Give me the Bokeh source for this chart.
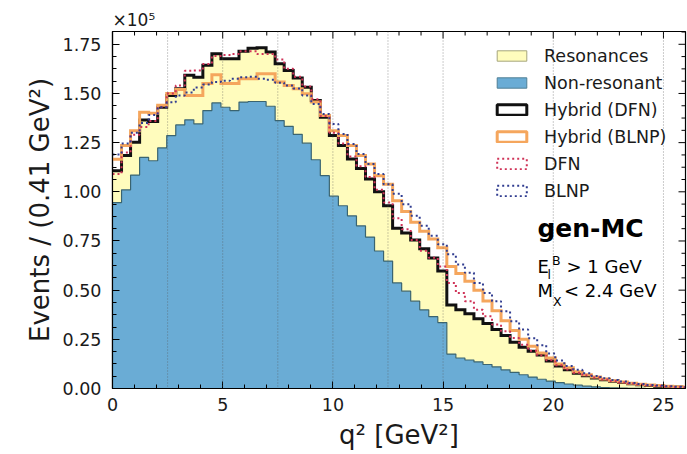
import numpy as np
from bokeh.plotting import figure
from bokeh.models import (ColumnDataSource, FixedTicker, Legend, LegendItem,
                          Label, Span, Title)
from bokeh.embed import file_html
from bokeh.resources import INLINE

# q^2 binning (GeV^2)
bin_width = 0.41
n_bins = 64

# Event counts per bin, in units of 1e5
non_resonant = [
    0.945, 1.010, 1.085, 1.175, 1.158, 1.223, 1.286, 1.340, 1.366, 1.345,
    1.413, 1.452, 1.430, 1.413, 1.456, 1.459, 1.459, 1.435, 1.362, 1.333,
    1.292, 1.247, 1.163, 1.082, 0.978, 0.929, 0.878, 0.827, 0.770, 0.699,
    0.648, 0.537, 0.495, 0.444, 0.400, 0.365, 0.335, 0.175, 0.155, 0.145,
    0.135, 0.122, 0.110, 0.095, 0.082, 0.070, 0.058, 0.047, 0.038, 0.030,
    0.023, 0.017, 0.012, 0.008, 0.005, 0.003, 0.002, 0.001, 0.001, 0.000,
    0.000, 0.000, 0.000, 0.000]

resonances = [
    0.162, 0.174, 0.167, 0.190, 0.199, 0.207, 0.204, 0.184, 0.226, 0.238,
    0.230, 0.250, 0.246, 0.263, 0.259, 0.271, 0.273, 0.276, 0.289, 0.284,
    0.286, 0.285, 0.301, 0.297, 0.308, 0.306, 0.289, 0.292, 0.295, 0.301,
    0.281, 0.278, 0.295, 0.311, 0.310, 0.298, 0.262, 0.250, 0.245, 0.235,
    0.220, 0.208, 0.190, 0.175, 0.153, 0.140, 0.132, 0.123, 0.102, 0.085,
    0.072, 0.061, 0.053, 0.046, 0.040, 0.034, 0.028, 0.023, 0.018, 0.015,
    0.012, 0.009, 0.007, 0.005]

hybrid_blnp = [
    1.165, 1.235, 1.310, 1.405, 1.400, 1.440, 1.500, 1.520, 1.490, 1.490,
    1.550, 1.595, 1.550, 1.550, 1.575, 1.575, 1.600, 1.600, 1.558, 1.541,
    1.524, 1.498, 1.456, 1.388, 1.311, 1.286, 1.235, 1.184, 1.141, 1.082,
    1.039, 0.955, 0.900, 0.845, 0.800, 0.760, 0.715, 0.620, 0.585, 0.545,
    0.500, 0.445, 0.395, 0.345, 0.295, 0.250, 0.215, 0.180, 0.155, 0.125,
    0.105, 0.085, 0.070, 0.058, 0.048, 0.040, 0.033, 0.027, 0.022, 0.018,
    0.015, 0.012, 0.009, 0.007]

dfn = [
    1.090, 1.200, 1.290, 1.330, 1.360, 1.430, 1.500, 1.540, 1.615, 1.617,
    1.650, 1.690, 1.695, 1.700, 1.715, 1.715, 1.700, 1.700, 1.673, 1.625,
    1.585, 1.535, 1.470, 1.385, 1.300, 1.245, 1.180, 1.130, 1.075, 1.010,
    0.945, 0.865, 0.810, 0.755, 0.700, 0.665, 0.620, 0.537, 0.486, 0.444,
    0.401, 0.367, 0.325, 0.291, 0.257, 0.223, 0.192, 0.168, 0.143, 0.118,
    0.097, 0.080, 0.067, 0.056, 0.046, 0.038, 0.031, 0.025, 0.020, 0.016,
    0.013, 0.010, 0.008, 0.006]

blnp = [
    1.190, 1.245, 1.300, 1.350, 1.390, 1.430, 1.455, 1.490, 1.505, 1.530,
    1.545, 1.558, 1.565, 1.575, 1.583, 1.585, 1.575, 1.570, 1.555, 1.540,
    1.525, 1.490, 1.447, 1.396, 1.345, 1.294, 1.243, 1.192, 1.141, 1.090,
    1.039, 0.990, 0.937, 0.878, 0.827, 0.776, 0.733, 0.682, 0.631, 0.588,
    0.537, 0.486, 0.444, 0.393, 0.342, 0.300, 0.255, 0.220, 0.178, 0.142,
    0.115, 0.095, 0.077, 0.064, 0.052, 0.043, 0.035, 0.028, 0.023, 0.018,
    0.015, 0.012, 0.009, 0.007]

# hybrid-model q^2 bin boundaries, shown as dotted guide lines
hybrid_q2_boundaries = [2.5, 5, 7.5, 10, 12.5, 15, 20, 25]

x_ticks = [0, 5, 10, 15, 20, 25]
x_minor = list(range(0, 27))
y_ticks = [0.0, 0.25, 0.5, 0.75, 1.0, 1.25, 1.5, 1.75]
y_tick_labels = ["0.00", "0.25", "0.50", "0.75", "1.00", "1.25", "1.50", "1.75"]
y_minor = [i * 0.0625 for i in range(30)]

FONT = "DejaVu Sans"
BLUE = "#6aacd5"
BLUE_EDGE = "#3a6470"
YELLOW = "#fffcbd"
ORANGE = "#f5a65d"
RED = "#cf3358"
NAVY = "#303c90"
TEXT = "#1a1a1a"

X_MAX, Y_MAX = 26.0, 1.815
W, H = 687, 454
BORDER_L, BORDER_R, BORDER_T, BORDER_B = 112, 2, 31, 66
MAJOR_LEN, MINOR_LEN = 7, 4

edges = np.arange(n_bins + 1) * bin_width
nonres = np.array(non_resonant)
res = np.array(resonances)
hybrid_dfn = nonres + res


def step_y(vals):
    vals = np.asarray(vals, dtype=float)
    return np.append(vals, vals[-1])


p = figure(width=W, height=H, x_range=(0, X_MAX), y_range=(0, Y_MAX),
           output_backend="svg", toolbar_location=None,
           min_border_left=BORDER_L, min_border_right=BORDER_R,
           min_border_top=BORDER_T, min_border_bottom=BORDER_B)
p.xgrid.visible = False
p.ygrid.visible = False
p.outline_line_color = "black"
p.outline_line_width = 1.2
p.background_fill_color = "white"
p.border_fill_color = "white"

# stacked components
p.varea_step(x=edges, y1=np.zeros(n_bins + 1), y2=step_y(nonres),
             step_mode="after", fill_color=BLUE)
p.varea_step(x=edges, y1=step_y(nonres), y2=step_y(hybrid_dfn),
             step_mode="after", fill_color=YELLOW)
p.step(x=edges, y=step_y(nonres), mode="after", line_color=BLUE_EDGE,
       line_width=1.2)

# model curves
p.step(x=edges, y=step_y(hybrid_dfn), mode="after", line_color="#111111",
       line_width=3, line_join="miter")
p.step(x=edges, y=step_y(hybrid_blnp), mode="after", line_color=ORANGE,
       line_width=3, line_join="miter")
p.step(x=edges, y=step_y(dfn), mode="after", line_color=RED,
       line_width=2, line_dash="2 3")
p.step(x=edges, y=step_y(blnp), mode="after", line_color=NAVY,
       line_width=2, line_dash="2 3")

for q2 in hybrid_q2_boundaries:
    p.add_layout(Span(location=q2, dimension="height", line_color="#555555",
                      line_alpha=0.6, line_width=1, line_dash="1 2"))

# bottom / left axes: ticks pointing inward
xt = FixedTicker(ticks=x_ticks, minor_ticks=x_minor)
yt = FixedTicker(ticks=y_ticks, minor_ticks=y_minor)
xb = p.xaxis[0]
yl = p.yaxis[0]
xb.ticker = xt
yl.ticker = yt
yl.major_label_overrides = {t: s for t, s in zip(y_ticks, y_tick_labels)}
xb.major_label_overrides = {t: str(t) for t in x_ticks}

for ax in (xb, yl):
    ax.axis_line_color = "black"
    ax.axis_line_width = 1.2
    ax.major_tick_in = MAJOR_LEN
    ax.major_tick_out = 0
    ax.minor_tick_in = MINOR_LEN
    ax.minor_tick_out = 0
    ax.major_tick_line_color = "black"
    ax.minor_tick_line_color = "black"
    ax.major_label_text_font = FONT
    ax.major_label_text_font_size = "17.5px"
    ax.major_label_text_color = TEXT
    ax.axis_label_text_font = FONT
    ax.axis_label_text_font_size = "26px"
    ax.axis_label_text_font_style = "normal"
    ax.axis_label_text_color = TEXT

yl.major_label_standoff = 11
xb.major_label_standoff = 9
yl.axis_label = "Events / (0.41 GeV²)"
yl.axis_label_standoff = 5
xb.axis_label = "q² [GeV²]"
xb.axis_label_standoff = 6

# mirrored inward ticks on the top and right edges
px_x = (W - BORDER_L - BORDER_R) / X_MAX
px_y = (H - BORDER_T - BORDER_B) / Y_MAX
tx = [t for t in x_ticks] + [t for t in x_minor if t not in x_ticks]
tx_len = [MAJOR_LEN] * len(x_ticks) + [MINOR_LEN] * (len(tx) - len(x_ticks))
p.segment(x0=tx, x1=tx, y0=[Y_MAX] * len(tx),
          y1=[Y_MAX - L / px_y for L in tx_len], line_color="black", line_width=1)
ty = list(y_ticks) + [t for t in y_minor if t not in y_ticks]
ty_len = [MAJOR_LEN] * len(y_ticks) + [MINOR_LEN] * (len(ty) - len(y_ticks))
p.segment(x0=[X_MAX] * len(ty), x1=[X_MAX - L / px_x for L in ty_len],
          y0=ty, y1=ty, line_color="black", line_width=1)

# axis scale factor above the frame
p.add_layout(Title(text="×10⁵", align="left", text_font=FONT,
                   text_font_size="17px", text_font_style="normal",
                   text_color=TEXT, standoff=3, offset=0), "above")

# selection annotations
p.add_layout(Label(x=19.28, y=0.738, text="gen-MC", text_font=FONT,
                   text_font_size="25px", text_font_style="bold",
                   text_color="black"))
for x, y, t, size in [(19.28, 0.569, "E", "18px"), (19.74, 0.543, "l", "12.5px"),
                      (19.94, 0.615, "B", "12.5px"), (20.60, 0.569, "> 1 GeV", "18px"),
                      (19.28, 0.447, "M", "18px"), (19.99, 0.406, "X", "12.5px"),
                      (20.49, 0.447, "< 2.4 GeV", "18px")]:
    p.add_layout(Label(x=x, y=y, text=t, text_font=FONT, text_font_size=size,
                       text_color="black"))


# legend with patch-style entries (the patches carry no drawable data)
def legend_patch(**kw):
    src = ColumnDataSource(dict(left=[np.nan], right=[np.nan],
                                bottom=[np.nan], top=[np.nan]))
    return p.quad(left="left", right="right", bottom="bottom", top="top",
                  source=src, **kw)


r_res = legend_patch(fill_color=YELLOW, line_color="#a5a57c", line_width=1)
r_non = legend_patch(fill_color=BLUE, line_color="#4f7f94", line_width=1)
r_hdfn = legend_patch(fill_color=None, line_color="#111111", line_width=3)
r_hblnp = legend_patch(fill_color=None, line_color=ORANGE, line_width=3)
r_dfn = legend_patch(fill_color=None, line_color=RED, line_width=2, line_dash="2 3")
r_blnp = legend_patch(fill_color=None, line_color=NAVY, line_width=2, line_dash="2 3")

legend = Legend(items=[
    LegendItem(label="Resonances", renderers=[r_res]),
    LegendItem(label="Non-resonant", renderers=[r_non]),
    LegendItem(label="Hybrid (DFN)", renderers=[r_hdfn]),
    LegendItem(label="Hybrid (BLNP)", renderers=[r_hblnp]),
    LegendItem(label="DFN", renderers=[r_dfn]),
    LegendItem(label="BLNP", renderers=[r_blnp]),
], location=(381, 187))
legend.background_fill_alpha = 0
legend.border_line_alpha = 0
legend.padding = 0
legend.margin = 0
legend.spacing = 6
legend.glyph_width = 37
legend.glyph_height = 13
legend.label_height = 21
legend.label_standoff = 14
legend.label_text_font = FONT
legend.label_text_font_size = "17.5px"
legend.label_text_color = TEXT
legend.label_text_baseline = "middle"
p.add_layout(legend)

open("out.html", "w").write(file_html(p, INLINE))
